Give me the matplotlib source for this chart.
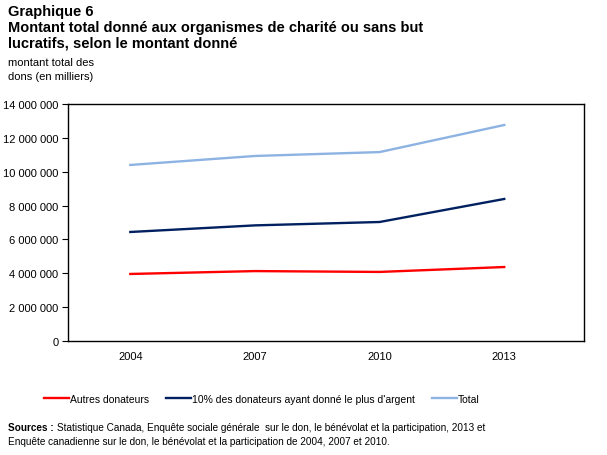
import matplotlib
matplotlib.use('Agg')
import matplotlib.pyplot as plt

plt.rcParams['font.family'] = ['Liberation Sans', 'DejaVu Sans']

years = ['2004', '2007', '2010', '2013']
autres = [3960000, 4130000, 4080000, 4370000]
top10 = [6440000, 6830000, 7030000, 8390000]
total = [10400000, 10930000, 11160000, 12760000]
yticks = [0, 2000000, 4000000, 6000000, 8000000, 10000000, 12000000, 14000000]


def fmt(v):
    return f"{v:,}".replace(',', ' ')


fig = plt.figure(figsize=(6.07, 4.56), dpi=100)
W, H = 607, 456
ax = fig.add_axes([68 / W, 1 - 342 / H, (584 - 68) / W, (342 - 105) / H])

x = list(range(len(years)))
l1, = ax.plot(x, autres, color='#ff0000', lw=1.7)
l2, = ax.plot(x, top10, color='#002060', lw=1.7)
l3, = ax.plot(x, total, color='#8db3e2', lw=1.7)

ax.set_xlim(-0.5, 3.64)
ax.set_ylim(0, 14000000)
ax.set_xticks(x)
ax.set_xticklabels(years, fontsize=8)
ax.tick_params(axis='x', length=0, pad=7)
ax.set_yticks(yticks)
ax.set_yticklabels([fmt(v) for v in yticks], fontsize=8)
ax.tick_params(axis='y', length=4, direction='out', pad=3)
for s in ax.spines.values():
    s.set_color('black')
    s.set_linewidth(1)

fig.text(8 / W, 1 - 12 / H, 'Graphique 6', fontsize=10.5, fontweight='bold', va='center')
fig.text(8 / W, 1 - 28 / H, 'Montant total donné aux organismes de charité ou sans but',
         fontsize=10.5, fontweight='bold', va='center')
fig.text(8 / W, 1 - 43 / H, 'lucratifs, selon le montant donné',
         fontsize=10.5, fontweight='bold', va='center')
fig.text(8 / W, 1 - 63 / H, 'montant total des', fontsize=8, va='center')
fig.text(8 / W, 1 - 77 / H, 'dons (en milliers)', fontsize=8, va='center')

fig.legend([l1, l2, l3],
           ['Autres donateurs', "10% des donateurs ayant donné le plus d'argent", 'Total'],
           loc='center', bbox_to_anchor=(262 / W, 1 - 400 / H), ncol=3, frameon=False,
           fontsize=7.5, handlelength=2.4, handletextpad=0.1, columnspacing=1.6)

fig.text(8 / W, 1 - 428 / H, 'Sources :', fontsize=7.2, fontweight='bold', va='center')
fig.text(57 / W, 1 - 428 / H,
         'Statistique Canada, Enquête sociale générale  sur le don, le bénévolat et la participation, 2013 et',
         fontsize=7.2, va='center')
fig.text(8 / W, 1 - 442 / H,
         'Enquête canadienne sur le don, le bénévolat et la participation de 2004, 2007 et 2010.',
         fontsize=7.2, va='center')

fig.savefig('out.png', dpi=100)
